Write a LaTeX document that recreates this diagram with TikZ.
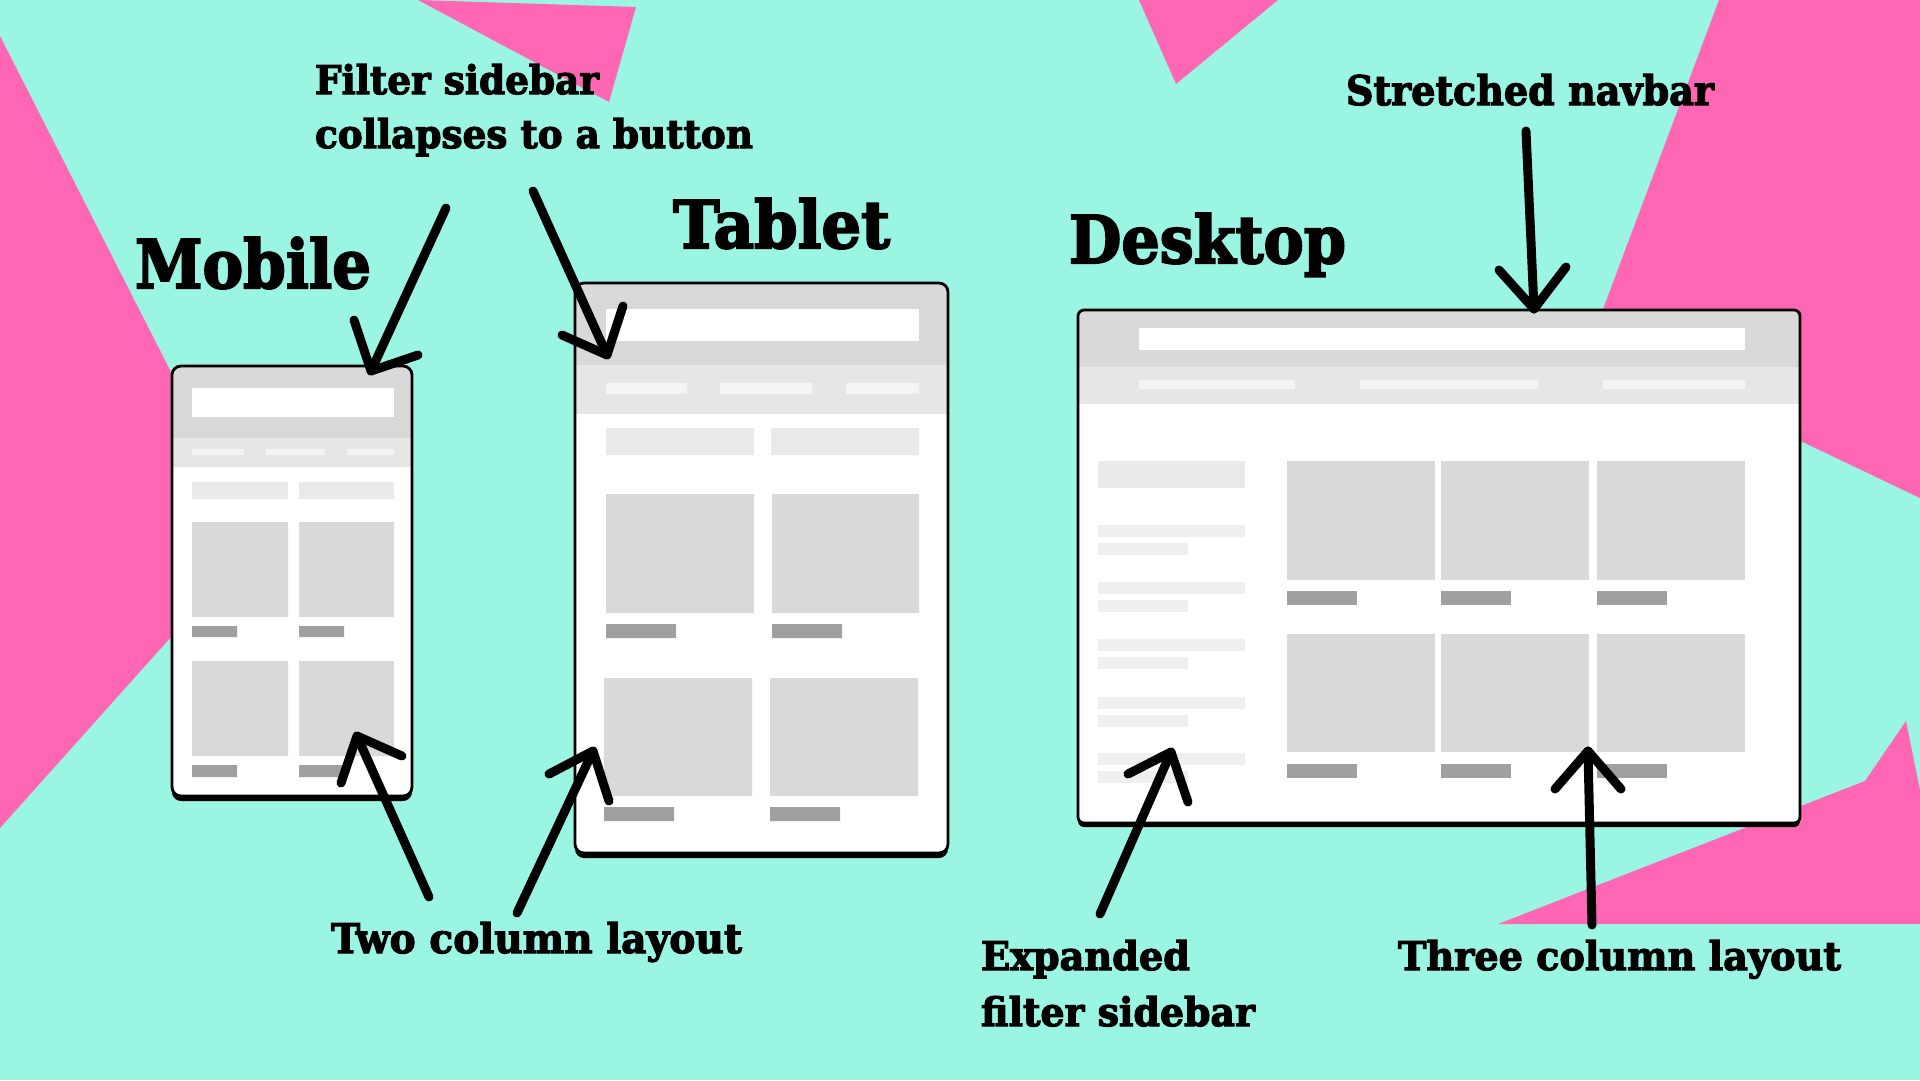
\documentclass[tikz,border=0pt]{standalone}
\usepackage{fontspec}
\usepackage{graphicx}
\newfontfamily\slab{DejaVu Serif}[BoldFeatures={FakeBold=3}]

\definecolor{aqua}{RGB}{154,245,227}
\definecolor{shard}{RGB}{255,102,180}
\definecolor{hdr}{RGB}{217,217,217}
\definecolor{navband}{RGB}{230,230,230}
\definecolor{navitem}{RGB}{244,244,244}
\definecolor{filt}{RGB}{234,234,234}
\definecolor{side}{RGB}{239,239,239}
\definecolor{imgbox}{RGB}{217,217,217}
\definecolor{tag}{RGB}{160,160,160}

% text scaled to a given width and height (in mm)
\newcommand{\sizedtext}[3]{\resizebox{#1mm}{#2mm}{#3}}

\tikzset{
  pointer/.style={line width=0.9mm, line cap=round, line join=round, draw=black},
  caption/.style={inner sep=0pt, outer sep=0pt, anchor=base west, font=\slab\bfseries},
  outline/.style={draw=black, line width=0.28mm},
}

\begin{document}
\begin{tikzpicture}[x=0.1mm, y=-0.1mm]
% background
\fill[aqua] (0,0) rectangle (1920,1080);
\useasboundingbox (0,0) rectangle (1920,1080);

% pink shards
\fill[shard] (418,0) -- (636,7) -- (609,102) -- cycle;
\fill[shard] (0,36) -- (257,541) -- (0,828) -- cycle;
\fill[shard] (1139,0) -- (1278,0) -- (1176,84) -- cycle;
\fill[shard] (1719,0) -- (1920,0) -- (1920,498) -- (1591,341) -- cycle;
\fill[shard] (1906,721) -- (1920,790) -- (1920,924) -- (1498,924) -- (1865,781) -- cycle;

% ---------- mobile wireframe ----------
\fill[black, rounded corners=0.9mm] (172,370) rectangle (412,801);
\begin{scope}
  \clip[rounded corners=0.9mm] (172,366) rectangle (412,796);
  \fill[white] (172,366) rectangle (412,796);
  \fill[hdr] (172,366) rectangle (412,438);
  \fill[navband] (172,438) rectangle (412,467);
\end{scope}
\fill[white] (192,388) rectangle (394,417);
\fill[navitem] (192,449) rectangle (244,455) (266,449) rectangle (325,455) (347,449) rectangle (394,455);
\fill[filt] (192,482) rectangle (288,499) (299,482) rectangle (394,499);
\fill[imgbox] (192,522) rectangle (288,617) (299,522) rectangle (394,617)
              (192,661) rectangle (288,756) (299,661) rectangle (394,756);
\fill[tag] (192,626) rectangle (237,637) (299,626) rectangle (344,637)
           (192,765) rectangle (237,777) (299,765) rectangle (344,777);
\draw[outline, rounded corners=0.9mm] (172,366) rectangle (412,796);

% ---------- tablet wireframe ----------
\fill[black, rounded corners=0.9mm] (575,288) rectangle (948,858);
\begin{scope}
  \clip[rounded corners=0.9mm] (575,283) rectangle (948,853);
  \fill[white] (575,283) rectangle (948,853);
  \fill[hdr] (575,283) rectangle (948,365);
  \fill[navband] (575,365) rectangle (948,414);
\end{scope}
\fill[white] (606,309) rectangle (919,341);
\fill[navitem] (606,383) rectangle (687,394) (720,383) rectangle (812,394) (846,383) rectangle (919,394);
\fill[filt] (606,428) rectangle (754,455) (771,428) rectangle (919,455);
\fill[imgbox] (606,494) rectangle (754,613) (772,494) rectangle (919,613)
              (604,678) rectangle (752,796) (770,678) rectangle (918,796);
\fill[tag] (606,624) rectangle (676,638) (772,624) rectangle (842,638)
           (604,807) rectangle (674,821) (770,807) rectangle (840,821);
\draw[outline, rounded corners=0.9mm] (575,283) rectangle (948,853);

% ---------- desktop wireframe ----------
\fill[black, rounded corners=0.6mm] (1078,314) rectangle (1800,827);
\begin{scope}
  \clip[rounded corners=0.6mm] (1078,310) rectangle (1800,823);
  \fill[white] (1078,310) rectangle (1800,823);
  \fill[hdr] (1078,310) rectangle (1800,367);
  \fill[navband] (1078,367) rectangle (1800,404);
\end{scope}
\fill[white] (1139,328) rectangle (1745,350);
\fill[navitem] (1139,380) rectangle (1295,389) (1360,380) rectangle (1538,389) (1603,380) rectangle (1745,389);
\fill[filt] (1098,461) rectangle (1245,488);
\foreach \y in {525,582,639,697,753}{
  \fill[side] (1098,\y) rectangle (1245,\y+12);
  \fill[side] (1098,\y+18) rectangle (1188,\y+30);
}
\foreach \x in {1287,1441,1597}{
  \fill[imgbox] (\x,461) rectangle (\x+148,580);
  \fill[imgbox] (\x,634) rectangle (\x+148,752);
  \fill[tag] (\x,591) rectangle (\x+70,605);
  \fill[tag] (\x,764) rectangle (\x+70,778);
}
\draw[outline, rounded corners=0.6mm] (1078,310) rectangle (1800,823);

% ---------- titles and captions ----------
\node[caption] (mobile) at (135,288) {\sizedtext{23.6}{5.1}{Mobile}};
\node[caption] (tablet) at (673,248) {\sizedtext{21.7}{5.0}{Tablet}};
\node[caption] (desktop) at (1069,263) {\sizedtext{27.7}{5.0}{Desktop}};
\node[caption] (filter1) at (315,94) {\sizedtext{28.4}{3.0}{Filter sidebar}};
\node[caption] (filter2) at (315,148) {\sizedtext{43.8}{3.0}{collapses to a button}};
\node[caption] (navbar) at (1346,105) {\sizedtext{36.8}{3.1}{Stretched navbar}};
\node[caption] (twocol) at (331,953) {\sizedtext{41.1}{3.1}{Two column layout}};
\node[caption] (expanded1) at (981,970) {\sizedtext{20.9}{3.0}{Expanded}};
\node[caption] (expanded2) at (981,1026) {\sizedtext{27.4}{3.0}{filter sidebar}};
\node[caption] (threecol) at (1398,970) {\sizedtext{44.3}{3.0}{Three column layout}};

% ---------- pointer arrows ----------
\coordinate (mTopTail) at (446,208);  \coordinate (mTopTip) at (371,371);
\coordinate (mTopL) at (354,320);     \coordinate (mTopR) at (418,355);
\coordinate (tTopTail) at (533,191);  \coordinate (tTopTip) at (607,355);
\coordinate (tTopL) at (562,335);     \coordinate (tTopR) at (623,306);
\coordinate (dTopTail) at (1526,131); \coordinate (dTopTip) at (1534,309);
\coordinate (dTopL) at (1499,270);    \coordinate (dTopR) at (1566,267);
\coordinate (mBotTail) at (429,897);  \coordinate (mBotTip) at (357,736);
\coordinate (mBotL) at (341,783);     \coordinate (mBotR) at (402,756);
\coordinate (tBotTail) at (517,913);  \coordinate (tBotTip) at (593,751);
\coordinate (tBotL) at (549,774);     \coordinate (tBotR) at (609,801);
\coordinate (sideTail) at (1100,914); \coordinate (sideTip) at (1171,752);
\coordinate (sideL) at (1128,774);    \coordinate (sideR) at (1188,802);
\coordinate (colTail) at (1592,925);  \coordinate (colTip) at (1588,751);
\coordinate (colL) at (1555,789);     \coordinate (colR) at (1621,789);

\foreach \a in {mTop,tTop,dTop,mBot,tBot,side,col}{
  \draw[pointer] (\a Tail) -- (\a Tip);
  \draw[pointer] (\a L) -- (\a Tip) -- (\a R);
}
\end{tikzpicture}
\end{document}
